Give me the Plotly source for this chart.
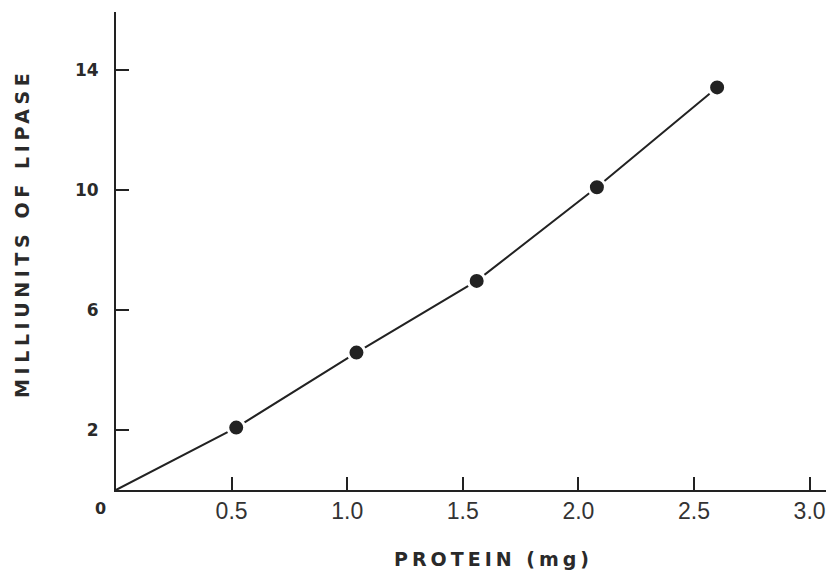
import plotly.graph_objects as go

# ---- data ----
protein_mg = [0.52, 1.04, 1.56, 2.08, 2.60]
lipase_mu = [2.08, 4.58, 6.97, 10.09, 13.42]
origin_x = [0.0]
origin_y = [0.0]

x_tickvals = [0.5, 1.0, 1.5, 2.0, 2.5, 3.0]
x_ticktext = ["0.5", "1.0", "1.5", "2.0", "2.5", "3.0"]
y_tickvals = [2, 6, 10, 14]
y_ticktext = ["2", "6", "10", "14"]

x_title = "PROTEIN (mg)"
y_title = "MILLIUNITS OF LIPASE"

INK = "#222222"
TXT = "#2a2a2a"

# page is drawn with an 8px body margin, so the figure is sized to fit the window
OFF = 8
W, H = 834 - OFF, 570 - OFF
PLOT_L, PLOT_T, PLOT_B = 116, 12, 490          # page coordinates of plot area
ML, MR, MT = PLOT_L - OFF, 0, PLOT_T - OFF
MB = H - (PLOT_B - OFF)
pw, ph = W - ML - MR, H - MT - MB


def px(xp):
    return (xp - PLOT_L) / pw


def py(yp):
    return (PLOT_B - yp) / ph


fig = go.Figure()
fig.add_trace(go.Scatter(
    x=origin_x + protein_mg, y=origin_y + lipase_mu,
    mode="lines", line=dict(color=INK, width=2), hoverinfo="skip",
    showlegend=False))
fig.add_trace(go.Scatter(
    x=protein_mg, y=lipase_mu, mode="markers",
    marker=dict(size=17, color=INK, line=dict(color="white", width=3)),
    showlegend=False))

fig.update_layout(
    width=W, height=H, autosize=False,
    margin=dict(l=ML, r=MR, t=MT, b=MB, pad=0),
    paper_bgcolor="white", plot_bgcolor="white",
    showlegend=False,
    xaxis=dict(range=[0, pw / 231.2], showgrid=False, zeroline=False,
               showline=True, linecolor=INK, linewidth=2,
               ticks="inside", ticklen=13, tickwidth=2, tickcolor=INK,
               tickvals=x_tickvals, ticktext=x_ticktext,
               ticklabelstandoff=-1,
               tickfont=dict(family="Liberation Sans Narrow, Liberation Sans, sans-serif",
                             size=23, color="#333333")),
    yaxis=dict(range=[0, ph / 30.0], showgrid=False, zeroline=False,
               showline=True, linecolor=INK, linewidth=2,
               ticks="inside", ticklen=13, tickwidth=2, tickcolor=INK,
               tickvals=y_tickvals, ticktext=y_ticktext,
               ticklabelstandoff=12,
               tickfont=dict(family="DejaVu Sans", size=17, color=TXT,
                             weight="bold")),
    annotations=[
        dict(text="0", xref="paper", yref="paper",
             x=px(100), y=py(508),
             xanchor="center", yanchor="middle", showarrow=False,
             font=dict(family="DejaVu Sans", size=16, color=TXT, weight="bold")),
        dict(text=x_title, xref="paper", yref="paper",
             x=px(493.5), y=py(559),
             xanchor="center", yanchor="middle", showarrow=False,
             font=dict(family="DejaVu Sans", size=19, color=TXT, weight="bold")),
        dict(text=y_title, xref="paper", yref="paper", textangle=-90,
             x=px(22.5), y=py(233.5),
             xanchor="center", yanchor="middle", showarrow=False,
             font=dict(family="DejaVu Sans", size=19, color=TXT, weight="bold")),
    ],
)

post = """
document.querySelectorAll('.annotation-text').forEach(function(t){
  var s = t.textContent || '';
  if (s.length > 14) { t.style.letterSpacing = '4.6px'; }
  else if (s.length > 3) { t.style.letterSpacing = '4px'; }
});
"""

fig.write_html("out.html", post_script=post)
